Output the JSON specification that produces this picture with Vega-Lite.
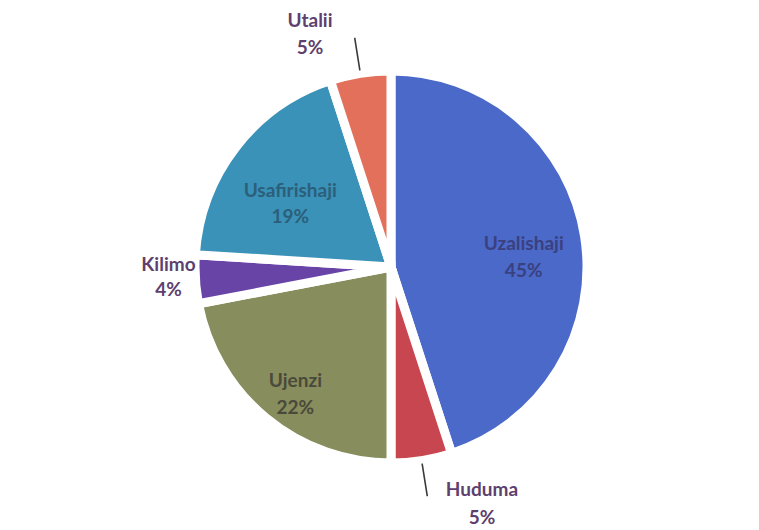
{
  "$schema": "https://vega.github.io/schema/vega-lite/v6.json",
  "width": 759,
  "height": 530,
  "autosize": {"type": "fit", "contains": "padding"},
  "padding": {"left": 23, "top": 4, "right": 0, "bottom": 0},
  "background": "white",
  "view": {"stroke": null},
  "data": {
    "values": [
      {"sector": "Uzalishaji", "pct": 45, "rank": 1},
      {"sector": "Huduma", "pct": 5, "rank": 2},
      {"sector": "Ujenzi", "pct": 22, "rank": 3},
      {"sector": "Kilimo", "pct": 4, "rank": 4},
      {"sector": "Usafirishaji", "pct": 19, "rank": 5},
      {"sector": "Utalii", "pct": 5, "rank": 6}
    ]
  },
  "transform": [
    {"stack": "pct", "groupby": [], "sort": [{"field": "rank", "order": "ascending"}], "as": ["p0", "p1"]},
    {"calculate": "(datum.p0 + datum.p1) / 2", "as": "mid"},
    {"calculate": "datum.sector + '\\n' + datum.pct + '%'", "as": "label"}
  ],
  "layer": [
    {
      "mark": {"type": "arc", "outerRadius": 196, "stroke": "white", "strokeWidth": 9},
      "encoding": {
        "theta": {"field": "p0", "type": "quantitative", "scale": {"domain": [0, 100]}},
        "theta2": {"field": "p1"},
        "color": {
          "field": "sector",
          "type": "nominal",
          "legend": null,
          "scale": {
            "domain": ["Uzalishaji", "Huduma", "Ujenzi", "Kilimo", "Usafirishaji", "Utalii"],
            "range": ["#4a69c8", "#c8464f", "#878d5d", "#6844a6", "#3a92b8", "#e2705a"]
          }
        }
      }
    },
    {
      "transform": [{"filter": "datum.sector == 'Utalii' || datum.sector == 'Huduma'"}],
      "mark": {"type": "arc", "innerRadius": 199, "outerRadius": 232, "fill": null, "stroke": "#3a3a3a", "strokeWidth": 1.6},
      "encoding": {
        "theta": {"field": "mid", "type": "quantitative", "scale": {"domain": [0, 100]}},
        "theta2": {"field": "mid"}
      }
    },
    {
      "transform": [{"filter": "datum.sector == 'Uzalishaji'"}],
      "mark": {"type": "text", "radius": 107, "dx": 27, "dy": -6, "font": "Lato", "fontWeight": "bold", "fontSize": 19, "lineBreak": "\n", "lineHeight": 27, "color": "#3b4080", "baseline": "middle"},
      "encoding": {"theta": {"field": "mid", "type": "quantitative", "scale": {"domain": [0, 100]}}, "text": {"field": "label"}}
    },
    {
      "transform": [{"filter": "datum.sector == 'Usafirishaji'"}],
      "mark": {"type": "text", "radius": 130, "dx": 2, "dy": 4, "font": "Lato", "fontWeight": "bold", "fontSize": 19, "lineBreak": "\n", "lineHeight": 26, "color": "#2b5f7a", "baseline": "middle"},
      "encoding": {"theta": {"field": "mid", "type": "quantitative", "scale": {"domain": [0, 100]}}, "text": {"field": "label"}}
    },
    {
      "transform": [{"filter": "datum.sector == 'Ujenzi'"}],
      "mark": {"type": "text", "radius": 150, "dy": -2, "font": "Lato", "fontWeight": "bold", "fontSize": 19, "lineBreak": "\n", "lineHeight": 27, "color": "#4a4a3a", "baseline": "middle"},
      "encoding": {"theta": {"field": "mid", "type": "quantitative", "scale": {"domain": [0, 100]}}, "text": {"field": "label"}}
    },
    {
      "transform": [{"filter": "datum.sector == 'Kilimo'"}],
      "mark": {"type": "text", "radius": 215, "dx": -8, "dy": -15, "font": "Lato", "fontWeight": "bold", "fontSize": 19, "lineBreak": "\n", "lineHeight": 25, "color": "#5e3f6e", "baseline": "middle"},
      "encoding": {"theta": {"field": "mid", "type": "quantitative", "scale": {"domain": [0, 100]}}, "text": {"field": "label"}}
    },
    {
      "transform": [{"filter": "datum.sector == 'Utalii'"}],
      "mark": {"type": "text", "radius": 230, "dx": -45, "dy": -19, "font": "Lato", "fontWeight": "bold", "fontSize": 19, "lineBreak": "\n", "lineHeight": 27, "color": "#5e3f6e", "baseline": "middle"},
      "encoding": {"theta": {"field": "mid", "type": "quantitative", "scale": {"domain": [0, 100]}}, "text": {"field": "label"}}
    },
    {
      "transform": [{"filter": "datum.sector == 'Huduma'"}],
      "mark": {"type": "text", "radius": 230, "dx": 55, "dy": -4, "font": "Lato", "fontWeight": "bold", "fontSize": 19, "lineBreak": "\n", "lineHeight": 28, "color": "#5e3f6e", "baseline": "middle"},
      "encoding": {"theta": {"field": "mid", "type": "quantitative", "scale": {"domain": [0, 100]}}, "text": {"field": "label"}}
    }
  ]
}
